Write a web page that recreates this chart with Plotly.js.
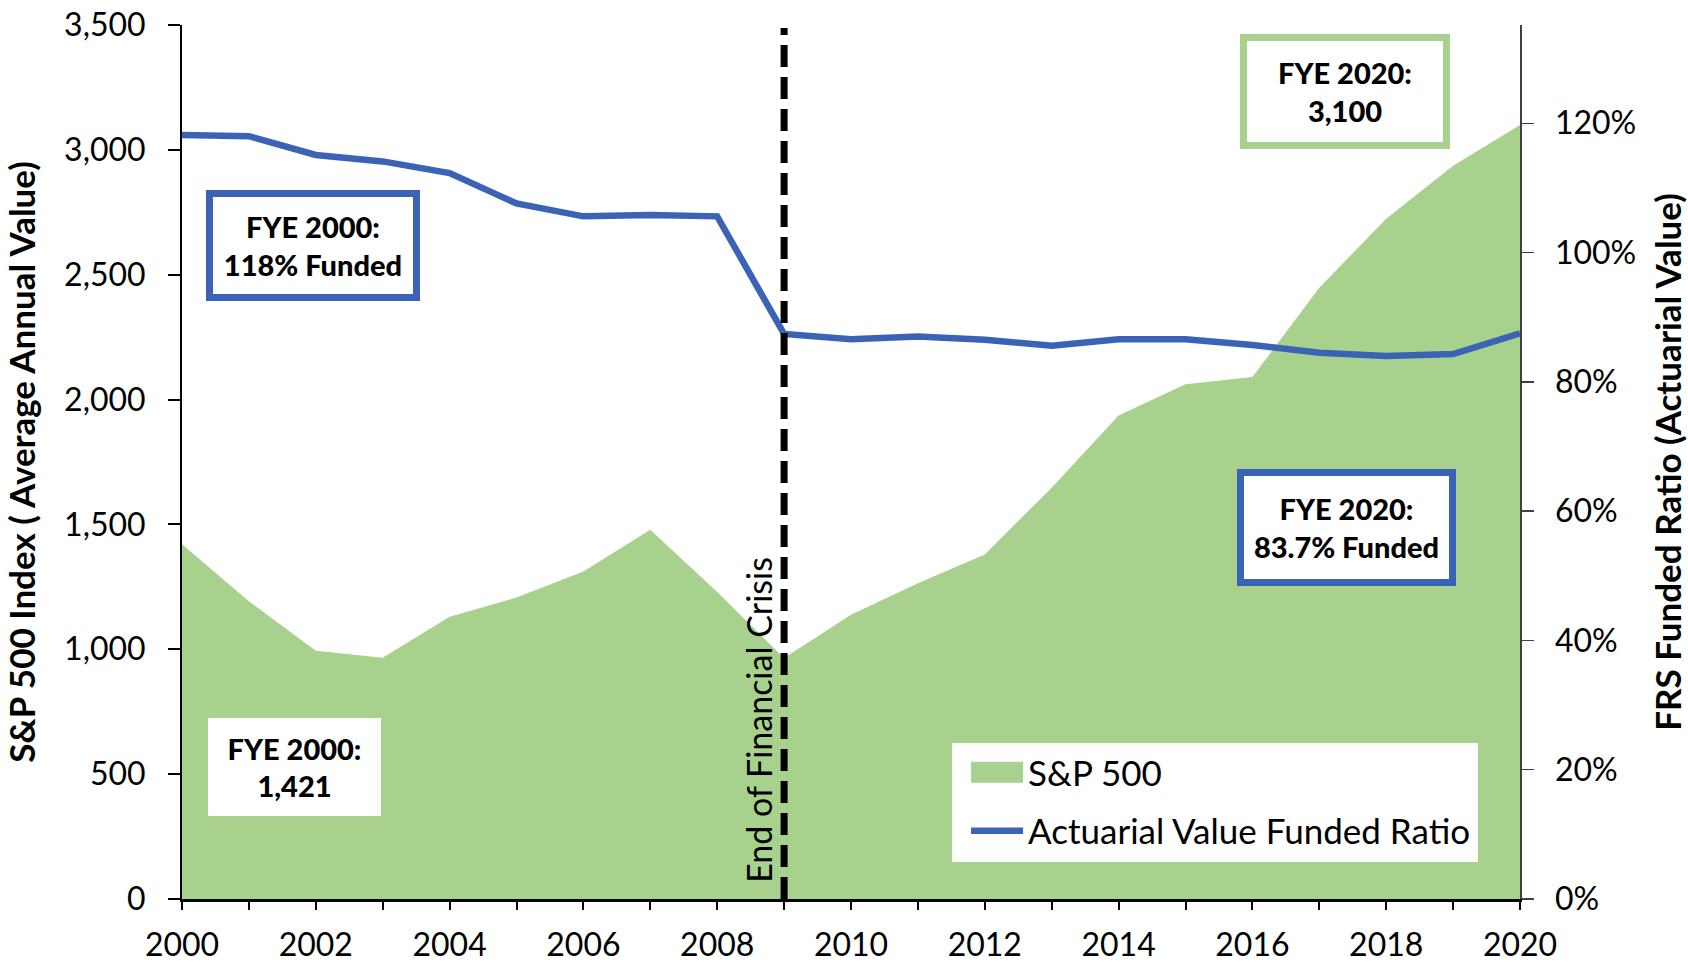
<!DOCTYPE html>
<html>
<head>
<meta charset="utf-8">
<script src="https://cdn.plot.ly/plotly-3.0.1.min.js"></script>
<style>html,body{margin:0;padding:0;background:#fff;}#chart{width:1688px;height:962px;}</style>
</head>
<body>
<div id="chart"></div>
<script>
const years = [2000,2001,2002,2003,2004,2005,2006,2007,2008,2009,2010,2011,2012,2013,2014,2015,2016,2017,2018,2019,2020];
const sp500 = [1421,1192,994,966,1130,1207,1311,1479,1229,965,1138,1264,1380,1647,1936,2061,2090,2448,2724,2936,3100];
const fundedRatio = [118.2,118.0,115.1,114.1,112.3,107.6,105.6,105.8,105.6,87.4,86.6,87.0,86.5,85.6,86.6,86.6,85.7,84.5,84.0,84.3,87.5];
const xTickLabels = ['2000','','2002','','2004','','2006','','2008','','2010','','2012','','2014','','2016','','2018','','2020'];
const rightTickVals = [0,20,40,60,80,100,120];
const rightTickLabels = ['0%','20%','40%','60%','80%','100%','120%'];
const seriesNames = ['S&P 500','Actuarial Value Funded Ratio'];
const crisisYear = 2009;
const crisisLabel = 'End of Financial Crisis';
const callouts = [
  {text:'FYE 2000:<br>118% Funded', x:2001.96, y:2616, border:'#3B63B5'},
  {text:'FYE 2000:<br>1,421', x:2001.68, y:528, border:null},
  {text:'FYE 2020:<br>3,100', x:2017.38, y:3234, border:'#A9D18E'},
  {text:'FYE 2020:<br>83.7% Funded', x:2017.41, y:1486, border:'#3B63B5'}
];
const calloutSizes = [[214,111],[173,98],[210,115],[219,117]];

const FONT = 'Lato, "Open Sans", sans-serif';
const GREEN = '#A9D18E';
const BLUE = '#3B63B5';
const ITEMW = 52;

const traces = [
  {x:years, y:sp500, type:'scatter', mode:'lines', name:seriesNames[0], fill:'tozeroy',
   fillcolor:GREEN, line:{width:0, color:GREEN}, yaxis:'y', legendgroup:'a', hoverinfo:'x+y'},
  {x:years, y:fundedRatio, type:'scatter', mode:'lines', name:seriesNames[1],
   line:{width:6.5, color:BLUE}, yaxis:'y2', legendgroup:'b', hoverinfo:'x+y'}
];

const annotations = callouts.map((c,i)=>({
  x:c.x, y:c.y, xref:'x', yref:'y', text:c.text, showarrow:false,
  xanchor:'center', yanchor:'middle', align:'center',
  font:{family:FONT, size:29, color:'#000', weight:900},
  bgcolor:'#fff', bordercolor:c.border||'rgba(0,0,0,0)', borderwidth:c.border?7:0,
  borderpad:0, width:calloutSizes[i][0]-(c.border?14:0), height:calloutSizes[i][1]-(c.border?14:0)
}));
annotations.push({x:crisisYear, y:716, xref:'x', yref:'y', text:crisisLabel, showarrow:false,
  textangle:-90, xanchor:'right', yanchor:'middle', xshift:-3,
  font:{family:FONT, size:34, color:'#000'}});

const layout = {
  width:1688, height:962,
  margin:{l:182, r:168, t:25, b:63, pad:0},
  paper_bgcolor:'#fff', plot_bgcolor:'#fff',
  font:{family:FONT, color:'#000'},
  showlegend:true,
  legend:{x:0.586, y:0.1785, xanchor:'left', yanchor:'top', bgcolor:'rgba(0,0,0,0)',
          font:{family:FONT, size:35, color:'#000'}, traceorder:'grouped', tracegroupgap:10,
          itemwidth:ITEMW},
  xaxis:{range:[2000,2020], tickvals:years, ticktext:xTickLabels, ticks:'outside', ticklen:8, tickwidth:2,
         tickcolor:'#000', showline:true, linecolor:'#000', linewidth:2.5, showgrid:false, zeroline:false,
         tickfont:{family:FONT, size:32, color:'#000'}, automargin:false, ticklabelstandoff:8},
  yaxis:{range:[0,3500], dtick:500, tickformat:',d', ticks:'outside', ticklen:12, tickwidth:2, tickcolor:'#000',
         showline:true, linecolor:'#000', linewidth:2, showgrid:false, zeroline:false,
         tickfont:{family:FONT, size:32, color:'#000'}, automargin:false, ticklabelstandoff:16,
         title:{text:'<b>S&P 500 Index ( Average Annual Value)</b>', font:{family:FONT, size:35, color:'#000'}, standoff:19}},
  yaxis2:{range:[0,135.2], overlaying:'y', side:'right', tickvals:rightTickVals, ticktext:rightTickLabels,
          ticks:'outside', ticklen:12, tickwidth:1.5, tickcolor:'#404040', showline:true, linecolor:'#404040',
          linewidth:1.5, showgrid:false, zeroline:false, tickfont:{family:FONT, size:32, color:'#000'},
          automargin:false, ticklabelstandoff:15,
          title:{text:'<b>FRS Funded Ratio (Actuarial Value)</b>', font:{family:FONT, size:35, color:'#000'}, standoff:22}},
  shapes:[
    {type:'rect', xref:'paper', yref:'paper', x0:0.5755, x1:0.9686, y0:0.0423, y1:0.1785,
     fillcolor:'#fff', line:{width:0}, layer:'above'},
    {type:'line', xref:'x', yref:'paper', x0:crisisYear, x1:crisisYear, y0:0, y1:0.9966,
     line:{color:'#000', width:7, dash:'22px,10px'}, layer:'above'}
  ],
  annotations:annotations
};

Plotly.newPlot('chart', traces, layout, {displayModeBar:false, staticPlot:true}).then(()=>{
  document.querySelectorAll('.legend .legendfill path').forEach(p=>{
    p.setAttribute('d', 'M5,-10.5h' + (ITEMW) + 'v21h-' + (ITEMW) + 'z');
  });
});
</script>
</body>
</html>
